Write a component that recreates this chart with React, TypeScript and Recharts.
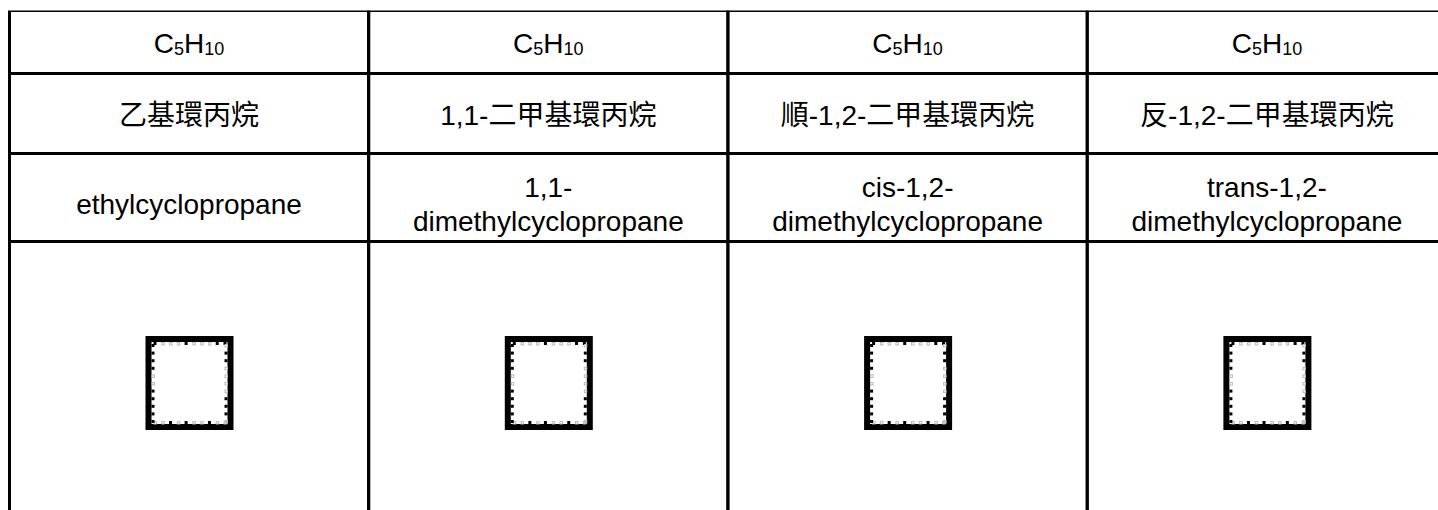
import React from 'react';
import { BarChart, Bar, XAxis, YAxis, Rectangle } from 'recharts';

// table content, one entry per column
const COLUMNS = [0, 1, 2, 3];
const FORMULAS = ['C5H10', 'C5H10', 'C5H10', 'C5H10'];
const CHINESE_NAMES = ['乙基環丙烷', '1,1-二甲基環丙烷', '順-1,2-二甲基環丙烷', '反-1,2-二甲基環丙烷'];
const ENGLISH_NAMES = [
  ['ethylcyclopropane'],
  ['1,1-', 'dimethylcyclopropane'],
  ['cis-1,2-', 'dimethylcyclopropane'],
  ['trans-1,2-', 'dimethylcyclopropane'],
];

// layout: row heights (px) stacked top to bottom
const ROW_KEYS = ['formula', 'chinese', 'english', 'structure'];
const ROW_HEIGHTS = [63, 80, 88, 366.5];

const FONT = "'Liberation Sans', Arial, 'Noto Sans CJK TC', sans-serif";
const TOTAL = ROW_HEIGHTS.reduce((a, b) => a + b, 0);

const TABLE = COLUMNS.map(col => {
  const row: Record<string, number> = { col };
  ROW_KEYS.forEach((k, i) => { row[k] = ROW_HEIGHTS[i]; });
  return row;
});

function Formula({ text, x, y }: { text: string; x: number; y: number }) {
  const parts = text.split(/(\d+)/).filter(Boolean);
  let shifted = false;
  return (
    <text x={x} y={y} textAnchor="middle" fontSize={28} fontFamily={FONT} fill="#000">
      {parts.map((p, i) => {
        const isSub = /^\d+$/.test(p);
        let dy = 0;
        if (isSub && !shifted) { dy = 2; shifted = true; }
        else if (!isSub && shifted) { dy = -2; shifted = false; }
        return (
          <tspan key={i} dy={dy} fontSize={isSub ? 18 : 28}>{p}</tspan>
        );
      })}
    </text>
  );
}

// pattern of the broken-image frame edge: B = black notch, G = grey square
const EDGE_TOP = 'BGGGBGGGBB';
const EDGE_BOTTOM = 'GGBGBGGBGG';
const EDGE_LEFT = 'BBBBGGBBBBB';
const EDGE_RIGHT = 'GBBGGGGBBBG';

function BrokenImage({ cx, top }: { cx: number; top: number }) {
  const w = 88, h = 94, t = 6;
  const left = cx - w / 2;
  const marks: React.ReactNode[] = [];
  const mark = (kind: string, x: number, y: number, key: string) => {
    marks.push(kind === 'B'
      ? <rect key={key} x={x} y={y} width={3} height={3} fill="#000" />
      : <rect key={key} x={x + 0.5} y={y + 0.5} width={2.5} height={2.5} fill="none" stroke="#bbb" strokeWidth={1} />);
  };
  const iw = w - 2 * t, ih = h - 2 * t;
  EDGE_TOP.split('').forEach((k, i) => mark(k, left + t + 2 + i * (iw - 6) / (EDGE_TOP.length - 1), top + t, `t${i}`));
  EDGE_BOTTOM.split('').forEach((k, i) => mark(k, left + t + 2 + i * (iw - 6) / (EDGE_BOTTOM.length - 1), top + h - t - 3, `b${i}`));
  EDGE_LEFT.split('').forEach((k, i) => mark(k, left + t, top + t + 2 + i * (ih - 6) / (EDGE_LEFT.length - 1), `l${i}`));
  EDGE_RIGHT.split('').forEach((k, i) => mark(k, left + w - t - 3, top + t + 2 + i * (ih - 6) / (EDGE_RIGHT.length - 1), `r${i}`));
  return (
    <g>
      <rect x={left} y={top} width={w} height={h} fill="#000" />
      <rect x={left + t} y={top + t} width={iw} height={ih} fill="#fff" />
      {marks}
    </g>
  );
}

function makeCell(rowKey: string) {
  return function Cell(props: any) {
    const { x, y, width, height, payload } = props;
    const col: number = payload?.col ?? props.index ?? 0;
    // reversed axis gives negative heights, so normalise the box
    const top = Math.min(y, y + height);
    const h = Math.abs(height);
    const cx = x + width / 2;
    const cy = top + h / 2;
    let content: React.ReactNode = null;
    if (rowKey === 'formula') {
      content = <Formula text={FORMULAS[col]} x={cx} y={cy + 11.3} />;
    } else if (rowKey === 'chinese') {
      content = (
        <text x={cx} y={cy + 11.5} textAnchor="middle" fontSize={28} fontFamily={FONT} fill="#000">
          {CHINESE_NAMES[col]}
        </text>
      );
    } else if (rowKey === 'english') {
      const lines = ENGLISH_NAMES[col];
      content = lines.length === 1 ? (
        <text x={cx} y={cy + 16} textAnchor="middle" fontSize={28} fontFamily={FONT} fill="#000">{lines[0]}</text>
      ) : (
        <text textAnchor="middle" fontSize={28} fontFamily={FONT} fill="#000">
          <tspan x={cx} y={cy - 1}>{lines[0]}</tspan>
          <tspan x={cx} y={cy + 33}>{lines[1]}</tspan>
        </text>
      );
    } else {
      content = <BrokenImage cx={cx + 0.5} top={top + 94.5} />;
    }
    return (
      <g>
        <Rectangle x={x} y={top} width={width} height={h} fill="#fff" stroke="#000" strokeWidth={3} />
        {content}
      </g>
    );
  };
}

export default function App() {
  const plotWidth = 4 * 359.3;
  const chartWidth = 1480;
  return (
    <div style={{ position: 'absolute', left: 0, top: 0, width: 1438, height: 510, overflow: 'hidden', background: '#fff' }}>
      <BarChart
        width={chartWidth}
        height={620}
        data={TABLE}
        margin={{ top: 10.5, left: 9.5, right: chartWidth - 9.5 - plotWidth, bottom: 620 - 10.5 - TOTAL }}
        barCategoryGap={0}
        barGap={0}
      >
        <XAxis dataKey="col" type="category" hide />
        <YAxis type="number" domain={[0, TOTAL]} reversed hide allowDataOverflow />
        {ROW_KEYS.map(k => (
          <Bar key={k} dataKey={k} stackId="table" isAnimationActive={false} shape={makeCell(k)} />
        ))}
      </BarChart>
    </div>
  );
}
